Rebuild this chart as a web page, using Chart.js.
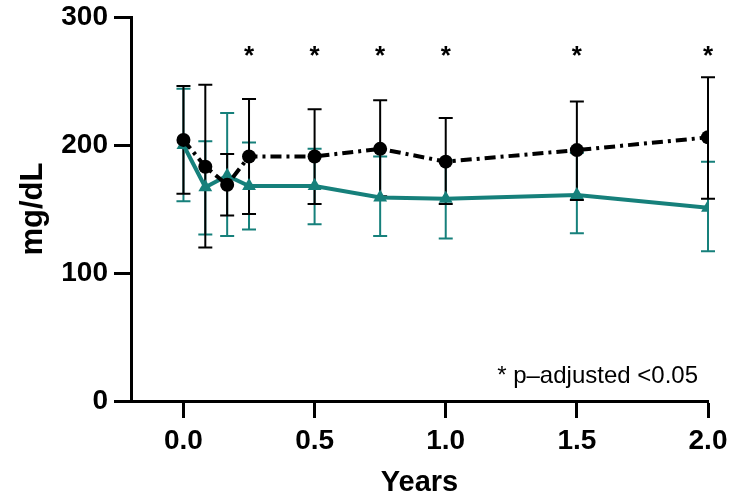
<!DOCTYPE html>
<html>
<head>
<meta charset="utf-8">
<script src="https://cdn.jsdelivr.net/npm/chart.js@4.4.0/dist/chart.umd.min.js"></script>
<style>
  html, body { margin: 0; padding: 0; background: #fff; }
  #wrap { width: 729px; height: 500px; }
</style>
</head>
<body>
<div id="wrap"><canvas id="chart" width="729" height="500"></canvas></div>
<script>
// ==== Data ====
const years = [0, 1 / 12, 2 / 12, 0.25, 0.5, 0.75, 1.0, 1.5, 2.0];
const blackMean = [204, 183, 169, 191, 191, 197, 187, 196, 206];
const blackUpper = [246, 247, 193, 236, 228, 235, 221, 234, 253];
const blackLower = [162, 120, 145, 146, 154, 160, 154, 157, 158];
const tealMean = [200, 167, 176, 168, 168, 159, 158, 161, 151];
const tealUpper = [244, 203, 225, 202, 197, 191, 188, 194, 187];
const tealLower = [156, 130, 129, 134, 138, 129, 127, 131, 117];
const starYears = [0.25, 0.5, 0.75, 1.0, 1.5, 2.0];
const starLevel = 272;
const xTicks = [0, 0.5, 1.0, 1.5, 2.0];
const yTicks = [0, 100, 200, 300];
const footnote = '* p\u2013adjusted <0.05';

const TEAL = '#16807b';
const FONT = "'Liberation Sans', Arial, sans-serif";

const toPoints = (xs, ys) => xs.map((x, i) => ({ x: x, y: ys[i] }));

// ==== Error bars (drawn under the lines) ====
const errorBars = {
  id: 'errorBars',
  beforeDatasetsDraw(chart) {
    const { ctx, scales: { x, y } } = chart;
    const drawSet = (lo, hi, color) => {
      ctx.save();
      ctx.strokeStyle = color;
      ctx.lineWidth = 2;
      years.forEach((yr, i) => {
        const px = x.getPixelForValue(yr);
        const top = y.getPixelForValue(hi[i]);
        const bot = y.getPixelForValue(lo[i]);
        ctx.beginPath();
        ctx.moveTo(px, top); ctx.lineTo(px, bot);
        ctx.moveTo(px - 7, top); ctx.lineTo(px + 7, top);
        ctx.moveTo(px - 7, bot); ctx.lineTo(px + 7, bot);
        ctx.stroke();
      });
      ctx.restore();
    };
    drawSet(tealLower, tealUpper, TEAL);
    drawSet(blackLower, blackUpper, '#000');
  }
};

// ==== Asterisks + footnote ====
const annotations = {
  id: 'annotations',
  afterDraw(chart) {
    const { ctx, chartArea, scales: { x, y } } = chart;
    ctx.save();
    ctx.fillStyle = '#000';
    ctx.textAlign = 'center';
    ctx.textBaseline = 'middle';
    ctx.font = 'bold 26px ' + FONT;
    starYears.forEach(yr => {
      ctx.fillText('*', x.getPixelForValue(yr), y.getPixelForValue(starLevel) + 4);
    });
    ctx.textAlign = 'right';
    ctx.textBaseline = 'alphabetic';
    ctx.font = '24px ' + FONT;
    ctx.fillText(footnote, chartArea.right - 10, chartArea.bottom - 18);
    ctx.restore();
  }
};

// ==== Chart ====
const ctx = document.getElementById('chart').getContext('2d');
const chart = new Chart(ctx, {
  type: 'line',
  data: {
    datasets: [{
      label: 'Group A',
      data: toPoints(years, blackMean),
      borderColor: '#000',
      backgroundColor: '#000',
      borderWidth: 4,
      borderDash: [11, 5, 3, 5],
      pointStyle: 'circle',
      pointRadius: 7,
      pointBackgroundColor: '#000',
      pointBorderWidth: 0,
      tension: 0
    }, {
      label: 'Group B',
      data: toPoints(years, tealMean),
      borderColor: TEAL,
      backgroundColor: TEAL,
      borderWidth: 4,
      pointStyle: 'triangle',
      pointRadius: 8,
      pointBackgroundColor: TEAL,
      pointBorderWidth: 0,
      tension: 0
    }]
  },
  options: {
    responsive: false,
    animation: false,
    layout: { padding: { left: 0, right: 21, top: 17, bottom: 0 } },
    plugins: {
      legend: { display: false },
      tooltip: { enabled: false }
    },
    scales: {
      x: {
        type: 'linear',
        min: -0.2,
        max: 2.0,
        afterBuildTicks: scale => { scale.ticks = xTicks.map(v => ({ value: v })); },
        afterFit: scale => {
          scale.height = 99;
          scale.paddingLeft = 0;
          scale.paddingRight = 0;
        },
        ticks: {
          color: '#000',
          font: { family: FONT, size: 28, weight: 'bold' },
          padding: 6,
          maxRotation: 0,
          callback: v => v.toFixed(1)
        },
        grid: {
          drawOnChartArea: false,
          drawTicks: true,
          tickLength: 17,
          tickWidth: 3,
          tickColor: '#000'
        },
        border: { display: true, color: '#000', width: 3 },
        title: {
          display: true,
          text: 'Years',
          color: '#000',
          font: { family: FONT, size: 29, weight: 'bold' },
          padding: { top: 0, bottom: 0 }
        }
      },
      y: {
        min: 0,
        max: 300,
        afterBuildTicks: scale => { scale.ticks = yTicks.map(v => ({ value: v })); },
        afterFit: scale => {
          scale.width = 131;
          scale.paddingTop = 0;
          scale.paddingBottom = 0;
        },
        ticks: {
          color: '#000',
          font: { family: FONT, size: 28, weight: 'bold' },
          padding: 6
        },
        grid: {
          drawOnChartArea: false,
          drawTicks: true,
          tickLength: 17,
          tickWidth: 3,
          tickColor: '#000'
        },
        border: { display: true, color: '#000', width: 3 },
        title: {
          display: true,
          text: 'mg/dL',
          color: '#000',
          font: { family: FONT, size: 31, weight: 'bold' },
          padding: { top: 15, bottom: 0 }
        }
      }
    }
  },
  plugins: [errorBars, annotations]
});
</script>
</body>
</html>
